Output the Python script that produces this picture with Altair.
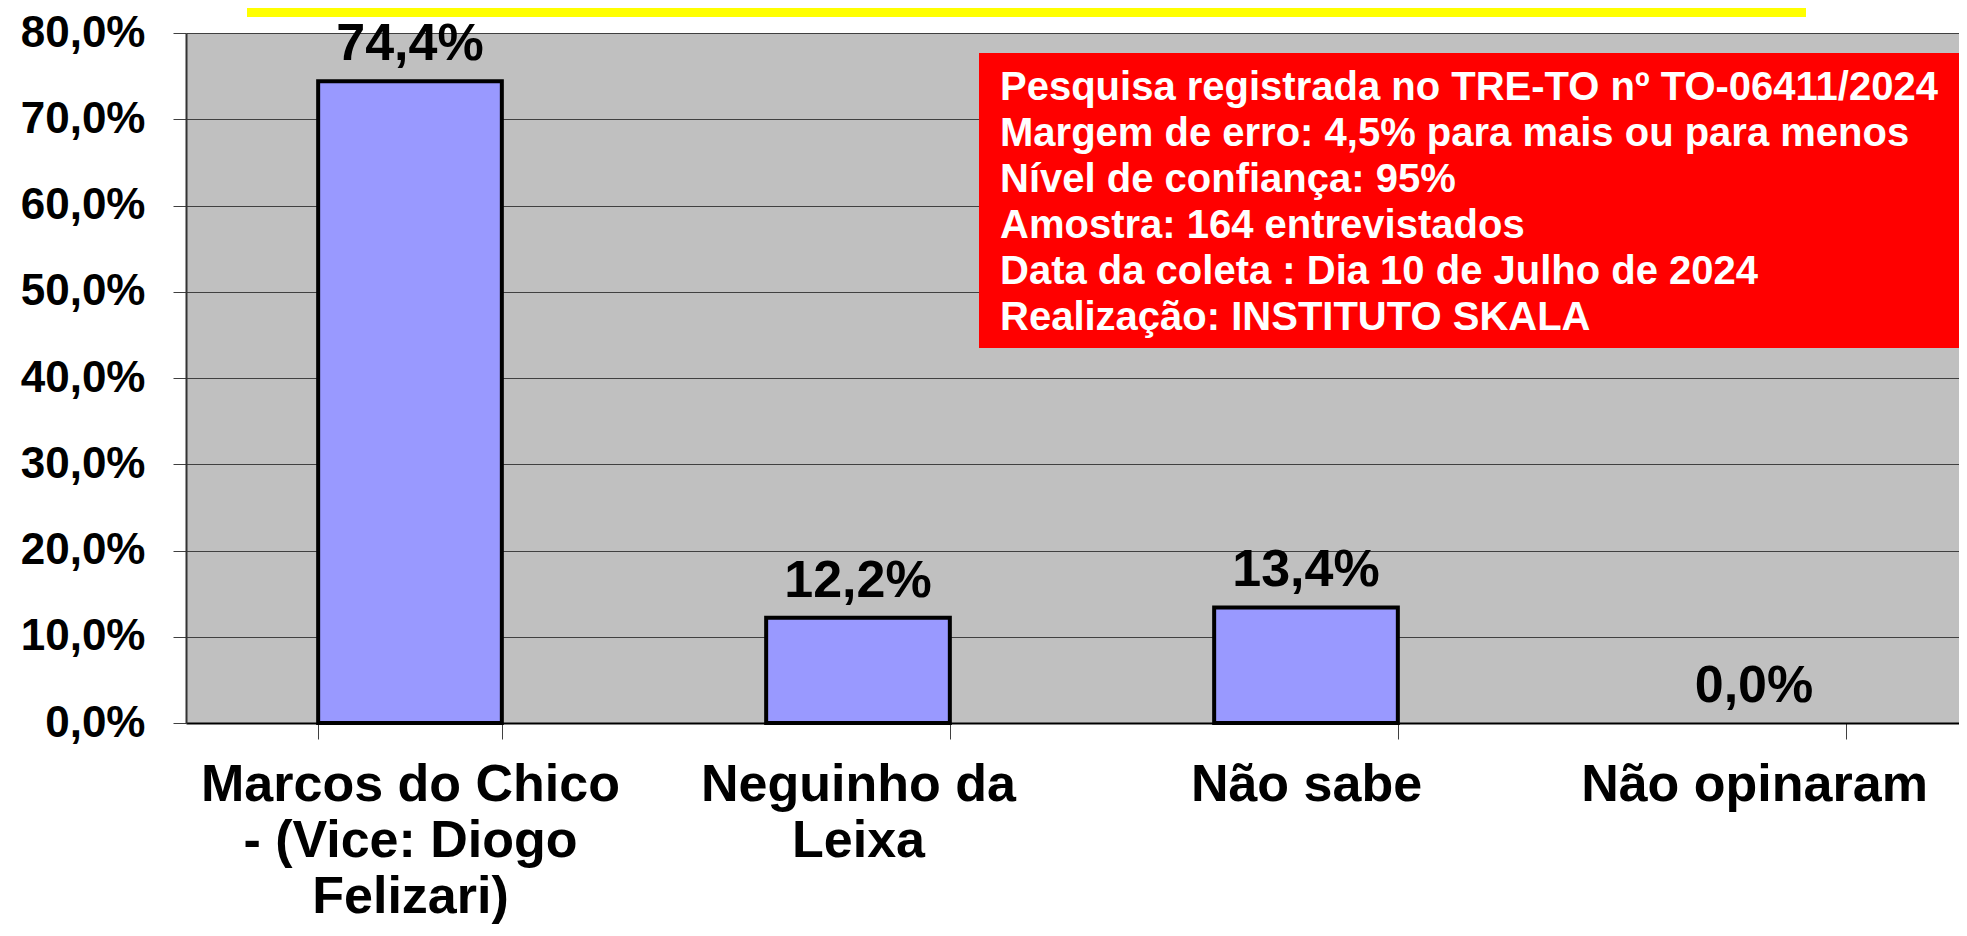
import altair as alt
import pandas as pd

FONT = "Liberation Sans"

categories = ["Marcos do Chico - (Vice: Diogo Felizari)", "Neguinho da Leixa", "Não sabe", "Não opinaram"]
label_lines = [
    ["Marcos do Chico", "- (Vice: Diogo", "Felizari)"],
    ["Neguinho da", "Leixa"],
    ["Não sabe"],
    ["Não opinaram"],
]
values = [0.744, 0.122, 0.134, 0.0]
y_ticks = [0.0, 0.1, 0.2, 0.3, 0.4, 0.5, 0.6, 0.7, 0.8]
info_lines = [
    "Pesquisa registrada no TRE-TO nº TO-06411/2024",
    "Margem de erro: 4,5% para mais ou para menos",
    "Nível de confiança: 95%",
    "Amostra: 164 entrevistados",
    "Data da coleta : Dia 10 de Julho de 2024",
    "Realização: INSTITUTO SKALA",
]

keys = ["|".join(l) for l in label_lines]
df = pd.DataFrame({"cat": categories, "key": keys, "v": values})
one = pd.DataFrame({"a": [0]})

x = alt.X(
    "key:N",
    sort=keys,
    scale=alt.Scale(domain=keys, range=[0, 1792], paddingInner=0.59, paddingOuter=0.295),
    axis=alt.Axis(
        title=None,
        labelExpr="split(datum.label, '|')",
        labelAngle=0,
        labelFont=FONT,
        labelFontSize=52,
        labelFontWeight="bold",
        labelColor="black",
        labelLineHeight=56,
        labelBaseline="top",
        labelPadding=20,
        labelLimit=1000,
        tickBand="extent",
        tickSize=16,
        tickColor="#404040",
        tickWidth=1,
        domainColor="black",
        domainWidth=2,
        grid=False,
    ),
)
y = alt.Y(
    "v:Q",
    scale=alt.Scale(domain=[0, 0.8], nice=False),
    axis=alt.Axis(
        title=None,
        values=y_ticks,
        labelExpr="replace(format(datum.value, '.1%'), '.', ',')",
        labelFont=FONT,
        labelFontSize=44,
        labelFontWeight="bold",
        labelColor="black",
        labelPadding=28,
        tickSize=13,
        tickColor="#404040",
        domainColor="#333333",
        domainWidth=2,
        grid=True,
        gridColor="#404040",
        gridWidth=1,
        gridOpacity=1,
    ),
)

bars = alt.Chart(df).transform_filter("datum.v > 0").mark_bar(
    color="#9999FF", stroke="black", strokeWidth=4
).encode(x=x, y=y)

vals = alt.Chart(df).transform_calculate(
    lbl="replace(format(datum.v, '.1%'), '.', ',')"
).mark_text(
    dy=-21, baseline="alphabetic", font=FONT, fontSize=52, fontWeight="bold", color="black"
).encode(x=x, y=y, text="lbl:N")

box = alt.Chart(one).mark_rect(color="#FF0000").encode(
    x=alt.value(793), x2=alt.value(1773), y=alt.value(20), y2=alt.value(315)
)
box_text = alt.Chart(one).mark_text(
    align="left", baseline="alphabetic", font=FONT, fontSize=40, fontWeight="bold",
    color="white", lineHeight=46
).encode(x=alt.value(814), y=alt.value(67), text=alt.value(info_lines))

strip = alt.Chart(one).mark_rect(color="#FFFF00").encode(
    x=alt.value(61), x2=alt.value(1620), y=alt.value(-25), y2=alt.value(-16)
)

chart = alt.layer(bars, vals, box, box_text, strip).properties(
    width=1773,
    height=690,
    background="white",
    autosize=alt.AutoSizeParams(type="none"),
    padding={"left": 178, "top": 25, "right": 0, "bottom": 203},
).configure_view(fill="#C0C0C0", stroke="transparent")

chart.save("out.html", embed_options={"renderer": "svg", "actions": False})
